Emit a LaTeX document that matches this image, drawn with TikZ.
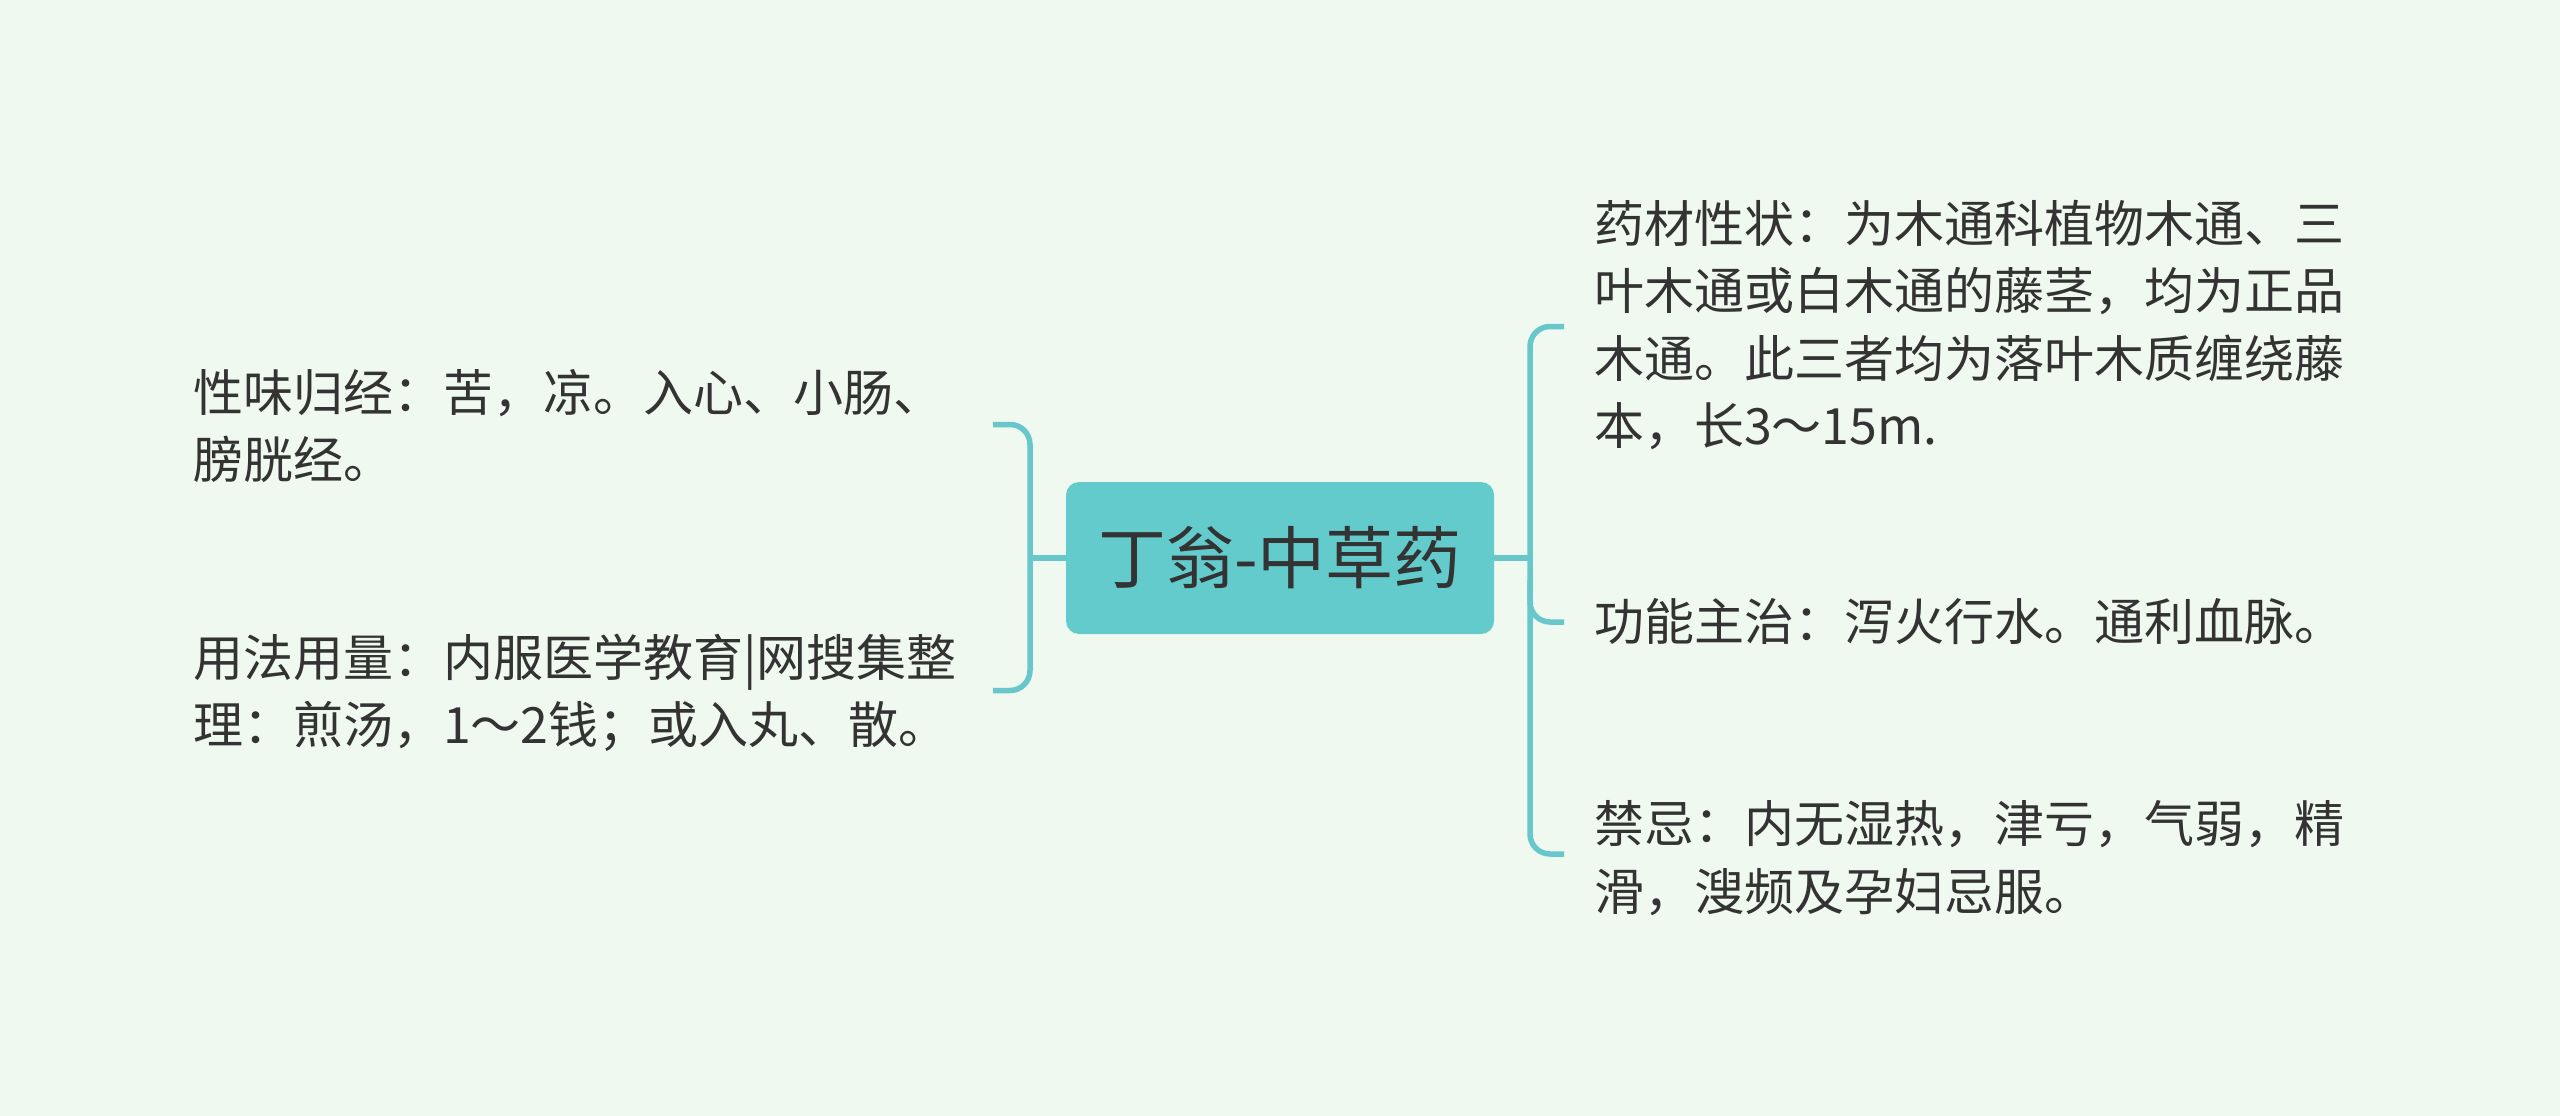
\documentclass[tikz,border=0pt]{standalone}
\usepackage{fontspec}
\setmainfont{Noto Sans CJK SC}
\definecolor{bgc}{HTML}{F0F9F0}
\definecolor{mainteal}{HTML}{63CBCC}
\definecolor{linec}{HTML}{68C7CB}
\definecolor{txtc}{HTML}{333333}
\begin{document}
\begin{tikzpicture}[x=1pt,y=-1pt,
  leaf/.style={anchor=west, align=left, inner sep=0pt, text=txtc,
    font=\fontsize{50}{67.5}\selectfont},
  root/.style={fill=mainteal, rounded corners=13pt, minimum width=428pt,
    minimum height=152pt, inner sep=0pt, text=txtc,
    font=\fontsize{68}{80}\selectfont},
  br/.style={draw=linec, line width=5.5pt, rounded corners=20pt}]
\fill[bgc] (0,0) rectangle (2560,1116);
\useasboundingbox (0,0) rectangle (2560,1116);

\node[root] (c) at (1280,558) {丁翁-中草药};

\node[leaf] (l1) at (193,426) {性味归经：苦，凉。入心、小肠、\\膀胱经。};
\node[leaf] (l2) at (193,693) {用法用量：内服医学教育|网搜集整\\理：煎汤，1～2钱；或入丸、散。};

\node[leaf] (r1) at (1594,325) {药材性状：为木通科植物木通、三\\叶木通或白木通的藤茎，均为正品\\木通。此三者均为落叶木质缠绕藤\\本，长3～15m.};
\node[leaf] (r2) at (1594,622) {功能主治：泻火行水。通利血脉。};
\node[leaf] (r3) at (1594,858) {禁忌：内无湿热，津亏，气弱，精\\滑，溲频及孕妇忌服。};

% left bracket
\coordinate (lj) at (1030,558);
\coordinate (le1) at (993,424.5);
\coordinate (le2) at (993,690.5);
\draw[br] (c.west) -- (lj);
\draw[br] (le1) -- (1030,424.5) -- (1030,690.5) -- (le2);

% right bracket
\coordinate (rj) at (1530,558);
\coordinate (re1) at (1564,326.5);
\coordinate (re2) at (1564,622);
\coordinate (re3) at (1564,854);
\draw[br] (c.east) -- (rj);
\draw[br] (re1) -- (1530,326.5) -- (1530,854) -- (re3);
\draw[br] (1530,580) -- (1530,622) -- (re2);
\end{tikzpicture}
\end{document}
